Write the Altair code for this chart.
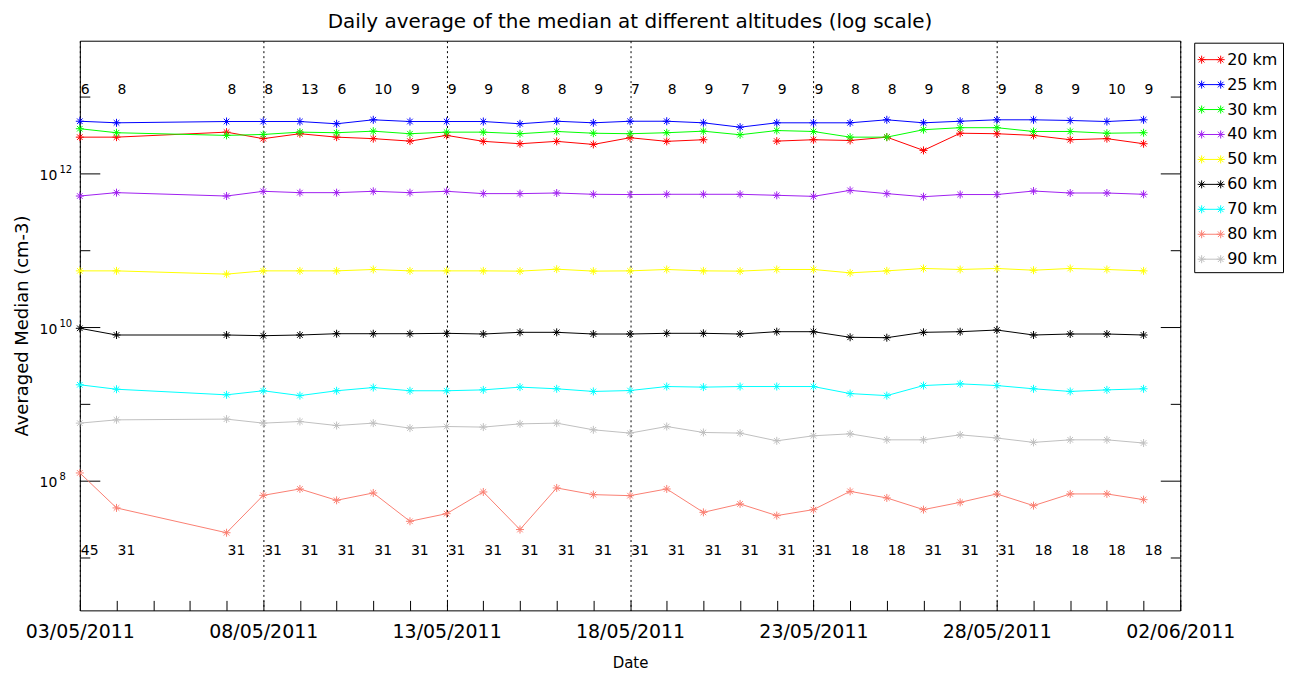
import altair as alt
import pandas as pd

# ---------------- data ----------------
dates = ["2011-05-03", "2011-05-04", "2011-05-07", "2011-05-08", "2011-05-09",
         "2011-05-10", "2011-05-11", "2011-05-12", "2011-05-13", "2011-05-14",
         "2011-05-15", "2011-05-16", "2011-05-17", "2011-05-18", "2011-05-19",
         "2011-05-20", "2011-05-21", "2011-05-22", "2011-05-23", "2011-05-24",
         "2011-05-25", "2011-05-26", "2011-05-27", "2011-05-28", "2011-05-29",
         "2011-05-30", "2011-05-31", "2011-06-01"]

km20 = [2.96e12, 2.96e12, 3.44e12, 2.83e12, 3.28e12, 2.96e12, 2.83e12, 2.63e12, 3.12e12, 2.61e12,
        2.43e12, 2.61e12, 2.38e12, 2.91e12, 2.61e12, 2.74e12, None, 2.63e12, 2.74e12, 2.68e12,
        2.96e12, 1.99e12, 3.33e12, 3.28e12, 3.12e12, 2.74e12, 2.83e12, 2.43e12]
km25 = [4.77e12, 4.55e12, 4.73e12, 4.73e12, 4.73e12, 4.42e12, 4.98e12, 4.73e12, 4.73e12, 4.73e12,
        4.42e12, 4.77e12, 4.55e12, 4.77e12, 4.77e12, 4.55e12, 3.99e12, 4.55e12, 4.55e12, 4.55e12,
        4.98e12, 4.55e12, 4.77e12, 4.98e12, 4.98e12, 4.88e12, 4.73e12, 4.98e12]
km30 = [3.81e12, 3.38e12, 3.12e12, 3.21e12, 3.44e12, 3.38e12, 3.54e12, 3.28e12, 3.44e12, 3.44e12,
        3.28e12, 3.51e12, 3.33e12, 3.28e12, 3.38e12, 3.54e12, 3.18e12, 3.61e12, 3.51e12, 2.96e12,
        2.96e12, 3.70e12, 3.93e12, 3.93e12, 3.51e12, 3.51e12, 3.33e12, 3.38e12]
km40 = [5.07e11, 5.61e11, 5.07e11, 5.84e11, 5.61e11, 5.61e11, 5.84e11, 5.61e11, 5.84e11, 5.45e11,
        5.45e11, 5.55e11, 5.34e11, 5.30e11, 5.34e11, 5.34e11, 5.34e11, 5.18e11, 5.02e11, 6.01e11,
        5.45e11, 4.97e11, 5.30e11, 5.30e11, 5.89e11, 5.55e11, 5.55e11, 5.34e11]
km50 = [5.38e10, 5.38e10, 4.88e10, 5.38e10, 5.38e10, 5.38e10, 5.61e10, 5.38e10, 5.38e10, 5.38e10,
        5.34e10, 5.66e10, 5.34e10, 5.38e10, 5.61e10, 5.38e10, 5.34e10, 5.61e10, 5.61e10, 5.07e10,
        5.38e10, 5.78e10, 5.61e10, 5.78e10, 5.49e10, 5.78e10, 5.61e10, 5.38e10]
km60 = [9.62e9, 7.87e9, 7.87e9, 7.71e9, 7.87e9, 8.18e9, 8.18e9, 8.18e9, 8.28e9, 8.11e9,
        8.53e9, 8.53e9, 8.11e9, 8.11e9, 8.28e9, 8.28e9, 8.11e9, 8.69e9, 8.69e9, 7.35e9,
        7.26e9, 8.53e9, 8.69e9, 9.14e9, 7.87e9, 8.11e9, 8.11e9, 7.87e9]
km70 = [1.77e9, 1.55e9, 1.31e9, 1.48e9, 1.28e9, 1.48e9, 1.63e9, 1.48e9, 1.48e9, 1.52e9,
        1.65e9, 1.57e9, 1.45e9, 1.49e9, 1.68e9, 1.65e9, 1.68e9, 1.68e9, 1.68e9, 1.36e9,
        1.28e9, 1.73e9, 1.82e9, 1.73e9, 1.57e9, 1.45e9, 1.52e9, 1.57e9]
km80 = [1.26e8, 4.42e7, 2.10e7, 6.44e7, 7.80e7, 5.55e7, 6.92e7, 2.96e7, 3.72e7, 7.13e7,
        2.31e7, 8.04e7, 6.58e7, 6.38e7, 7.80e7, 3.87e7, 4.98e7, 3.51e7, 4.20e7, 7.26e7,
        5.96e7, 4.20e7, 5.22e7, 6.72e7, 4.73e7, 6.72e7, 6.72e7, 5.66e7]
km90 = [5.61e8, 6.19e8, 6.33e8, 5.61e8, 5.89e8, 5.22e8, 5.61e8, 4.83e8, 5.07e8, 4.98e8,
        5.49e8, 5.61e8, 4.59e8, 4.16e8, 5.07e8, 4.24e8, 4.16e8, 3.30e8, 3.84e8, 4.07e8,
        3.40e8, 3.40e8, 3.95e8, 3.59e8, 3.15e8, 3.40e8, 3.40e8, 3.09e8]

n_top = [6, 8, 8, 8, 13, 6, 10, 9, 9, 9, 8, 8, 9, 7, 8, 9, 7, 9, 9, 8, 8, 9, 8, 9, 8, 9, 10, 9]
n_bottom = [45, 31, 31, 31, 31, 31, 31, 31, 31, 31, 31, 31, 31, 31, 31, 31, 31, 31, 31,
            18, 18, 31, 31, 31, 18, 18, 18, 18]

series_names = ["20 km", "25 km", "30 km", "40 km", "50 km", "60 km", "70 km", "80 km", "90 km"]
series_values = [km20, km25, km30, km40, km50, km60, km70, km80, km90]
series_colors = ["#FF0000", "#0000FF", "#00FF00", "#A020F0", "#FFFF00",
                 "#000000", "#00FFFF", "#FA8072", "#C0C0C0"]

y_domain = [2.05e6, 5.33e13]
y_label_values = [1e8, 1e10, 1e12]
y_minor_values = [1e7, 1e9, 1e11, 1e13]
top_label_level = 1.2e13
bottom_label_level = 1.23e7

# ---------------- tables ----------------
rows = []
for name, vals in zip(series_names, series_values):
    seg = 0
    for d, v in zip(dates, vals):
        if v is None:
            seg += 1
            continue
        rows.append({"date": d, "value": v, "series": name, "seg": seg})
df = pd.DataFrame(rows)

df_top = pd.DataFrame({"date": dates, "n": n_top, "lvl": top_label_level})
df_bot = pd.DataFrame({"date": dates, "n": n_bottom, "lvl": bottom_label_level})

W, H = 1103, 571
FONT = "DejaVu Sans"


def dt(m, d):
    return alt.DateTime(year=2011, month=m, date=d, utc=True)


major_dates = [dt(5, 3), dt(5, 8), dt(5, 13), dt(5, 18), dt(5, 23), dt(5, 28), dt(6, 2)]
daily_dates = [dt(5, d) for d in range(3, 32)] + [dt(6, 1), dt(6, 2)]

xscale = alt.Scale(type="utc", domain=[dt(5, 3), dt(6, 2)], nice=False)
yscale = alt.Scale(type="log", domain=y_domain, nice=False)
cscale = alt.Scale(domain=series_names, range=series_colors)

ASTER = "M-1,0L1,0M0,-1L0,1M-0.7,-0.7L0.7,0.7M-0.7,0.7L0.7,-0.7"
LEGSYM = ("M-0.83,0L0.83,0"
          "M-1.18,0L-0.48,0M-0.83,-0.35L-0.83,0.35M-1.075,-0.245L-0.585,0.245M-1.075,0.245L-0.585,-0.245"
          "M0.48,0L1.18,0M0.83,-0.35L0.83,0.35M0.585,-0.245L1.075,0.245M0.585,0.245L1.075,-0.245")

# ---------------- axes ----------------
x_main = alt.Axis(orient="bottom", values=major_dates,
                  labelExpr="utcFormat(datum.value, '%d/%m/%Y')",
                  labelFont=FONT, labelFontSize=19, labelColor="black", labelPadding=12,
                  ticks=False, tickSize=0, domain=False, labelFlush=False, labelOverlap=False,
                  grid=True, gridColor="black", gridDash=[2, 3], gridWidth=1, gridOpacity=1,
                  title="Date", titleFont=FONT, titleFontSize=15, titleFontWeight="normal",
                  titleColor="black", titlePadding=14)
x_ticks_in = alt.Axis(orient="top", offset=-H, values=daily_dates, tickSize=10, ticks=True,
                      tickColor="black", labels=False, domain=False, grid=False, title="")

y_main = alt.Axis(orient="left", values=y_label_values, labelExpr="'10'",
                  labelFont=FONT, labelFontSize=14, labelColor="black", labelPadding=23,
                  labelOffset=2, ticks=False, tickSize=0, domain=False, grid=False,
                  title="Averaged Median (cm-3)", titleFont=FONT, titleFontSize=18,
                  titleFontWeight="normal", titleColor="black", titlePadding=8)
y_exp = alt.Axis(orient="left", values=y_label_values,
                 labelExpr="'' + round(log(datum.value) / LN10)",
                 labelFont=FONT, labelFontSize=10, labelColor="black", labelPadding=21,
                 labelAlign="left", labelOffset=-4, ticks=False, tickSize=0, domain=False,
                 grid=False, title="")
y_left_major = alt.Axis(orient="right", offset=-W, values=y_label_values, tickSize=20,
                        tickColor="black", labels=False, domain=False, grid=False, title="")
y_left_minor = alt.Axis(orient="right", offset=-W, values=y_minor_values, tickSize=10,
                        tickColor="black", labels=False, domain=False, grid=False, title="")
y_right_major = alt.Axis(orient="left", offset=-W, values=y_label_values, tickSize=20,
                         tickColor="black", labels=False, domain=False, grid=False, title="")
y_right_minor = alt.Axis(orient="left", offset=-W, values=y_minor_values, tickSize=10,
                         tickColor="black", labels=False, domain=False, grid=False, title="")

legend = alt.Legend(title=None, orient="none", legendX=1117, legendY=2, direction="vertical",
                    strokeColor="black", fillColor="white", padding=5,
                    symbolType=LEGSYM, symbolSize=529, symbolStrokeWidth=1,
                    symbolFillColor="transparent",
                    labelFont=FONT, labelFontSize=16, labelColor="black", labelOffset=4,
                    rowPadding=5)

# ---------------- layers ----------------
lines = alt.Chart(df).mark_line(strokeWidth=1).encode(
    x=alt.X("date:T", scale=xscale, axis=x_main),
    y=alt.Y("value:Q", scale=yscale, axis=y_main),
    color=alt.Color("series:N", scale=cscale, legend=legend),
    detail="seg:N",
)

points = alt.Chart(df).mark_point(shape=ASTER, size=64, filled=False, strokeWidth=1, opacity=1).encode(
    x=alt.X("date:T", scale=xscale, axis=x_ticks_in),
    y=alt.Y("value:Q", scale=yscale, axis=y_left_major),
    color=alt.Color("series:N", scale=cscale, legend=legend),
)

top_text = alt.Chart(df_top).mark_text(align="left", baseline="middle", font=FONT,
                                       fontSize=14, color="black", dx=1).encode(
    x=alt.X("date:T", scale=xscale, axis=None),
    y=alt.Y("lvl:Q", scale=yscale, axis=y_left_minor),
    text="n:N",
)

bot_text = alt.Chart(df_bot).mark_text(align="left", baseline="middle", font=FONT,
                                       fontSize=14, color="black", dx=1).encode(
    x=alt.X("date:T", scale=xscale, axis=None),
    y=alt.Y("lvl:Q", scale=yscale, axis=y_right_major),
    text="n:N",
)

ghost1 = alt.Chart(df_bot).mark_point(opacity=0).encode(
    x=alt.X("date:T", scale=xscale, axis=None),
    y=alt.Y("lvl:Q", scale=yscale, axis=y_right_minor),
)

ghost2 = alt.Chart(df_top).mark_point(opacity=0).encode(
    x=alt.X("date:T", scale=xscale, axis=None),
    y=alt.Y("lvl:Q", scale=yscale, axis=y_exp),
)

chart = alt.layer(lines, points, top_text, bot_text, ghost1, ghost2).resolve_axis(
    x="independent", y="independent"
).properties(
    width=W, height=H,
    autosize=alt.AutoSizeParams(type="none"),
    padding={"left": 72, "top": 32, "right": 106, "bottom": 64},
    title=alt.TitleParams(text="Daily average of the median at different altitudes (log scale)",
                          font=FONT, fontSize=20, fontWeight="normal", color="black",
                          anchor="middle", offset=9),
    background="white",
).configure_view(stroke="black", strokeWidth=1)

chart.save("out.html", embed_options={"renderer": "svg", "actions": False})
